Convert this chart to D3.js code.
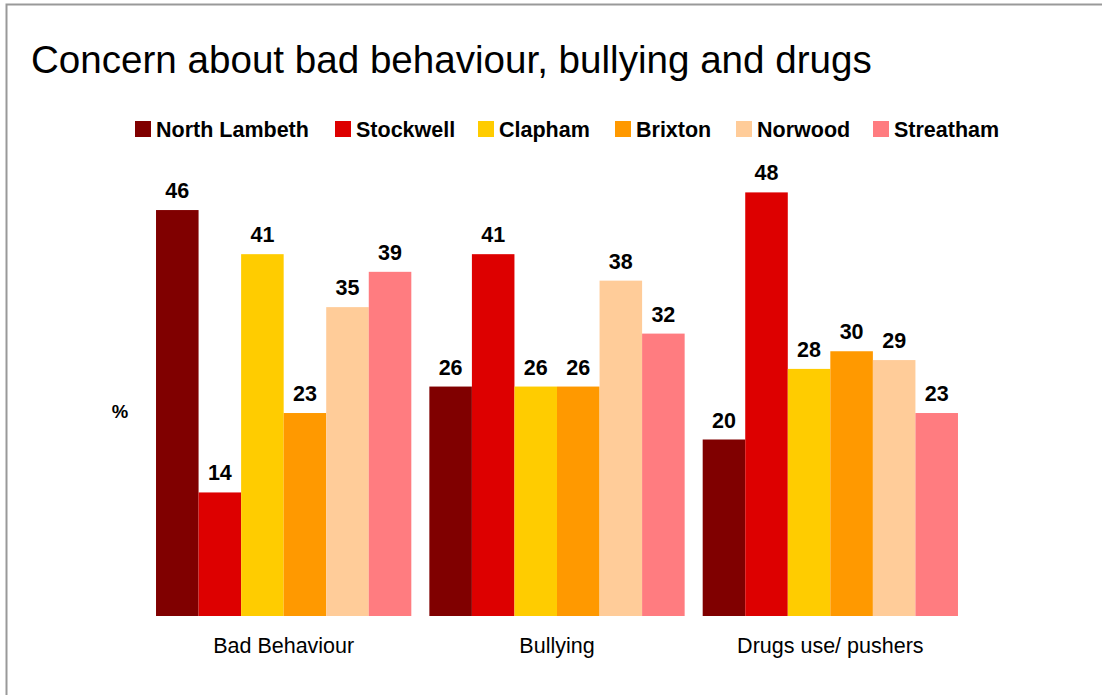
<!DOCTYPE html>
<html>
<head>
<meta charset="utf-8">
<script src="https://cdn.jsdelivr.net/npm/d3@7"></script>
<style>
  html, body { margin: 0; padding: 0; background: #fff; }
  svg { display: block; font-family: "Liberation Sans", Arial, sans-serif; }
</style>
</head>
<body>
<svg id="chart" width="1102" height="695"></svg>
<script>
// Survey areas and the three concern topics
const categories = ["Bad Behaviour", "Bullying", "Drugs use/ pushers"];
const areas = ["North Lambeth", "Stockwell", "Clapham", "Brixton", "Norwood", "Streatham"];
const colors = ["#800000", "#DD0000", "#FFCC00", "#FF9900", "#FFCC99", "#FF7C80"];

// Percentage concerned, one array per area (in category order)
const northLambeth = [46, 26, 20];
const stockwell    = [14, 41, 48];
const clapham      = [41, 26, 28];
const brixton      = [23, 26, 30];
const norwood      = [35, 38, 29];
const streatham    = [39, 32, 23];

const seriesValues = [northLambeth, stockwell, clapham, brixton, norwood, streatham];
const yDomain = [0, 50];

const svg = d3.select("#chart");

// Outer frame
svg.append("rect")
  .attr("x", 6.5).attr("y", 4.5)
  .attr("width", 1110).attr("height", 700)
  .attr("fill", "none").attr("stroke", "#999").attr("stroke-width", 2);

// Title
svg.append("text")
  .attr("x", 31).attr("y", 73)
  .attr("font-size", 38.6)
  .attr("fill", "#000")
  .text("Concern about bad behaviour, bullying and drugs");

// Plot geometry
const plot = { left: 147, right: 967, top: 174.75, bottom: 616 };

const x0 = d3.scaleBand()
  .domain(categories)
  .range([plot.left, plot.right])
  .paddingInner(0.066)
  .paddingOuter(0.033);

const x1 = d3.scaleBand()
  .domain(areas)
  .range([0, x0.bandwidth()])
  .padding(0);

const y = d3.scaleLinear().domain(yDomain).range([plot.bottom, plot.top]);

const color = d3.scaleOrdinal().domain(areas).range(colors);

// Bars
const groups = svg.append("g").selectAll("g")
  .data(categories)
  .join("g")
  .attr("transform", d => `translate(${x0(d)},0)`);

groups.selectAll("rect")
  .data((c, ci) => areas.map((a, ai) => ({ area: a, value: seriesValues[ai][ci] })))
  .join("rect")
  .attr("x", d => x1(d.area))
  .attr("y", d => y(d.value))
  .attr("width", x1.bandwidth())
  .attr("height", d => y(0) - y(d.value))
  .attr("fill", d => color(d.area));

// Value labels above bars
groups.selectAll("text.val")
  .data((c, ci) => areas.map((a, ai) => ({ area: a, value: seriesValues[ai][ci] })))
  .join("text")
  .attr("class", "val")
  .attr("x", d => x1(d.area) + x1.bandwidth() / 2)
  .attr("y", d => y(d.value) - 12)
  .attr("text-anchor", "middle")
  .attr("font-size", 21.5)
  .attr("font-weight", "bold")
  .attr("fill", "#000")
  .text(d => d.value);

// Category axis labels
const xAxis = d3.axisBottom(x0).tickSize(0).tickPadding(22);
const xg = svg.append("g")
  .attr("transform", `translate(0,${plot.bottom})`)
  .call(xAxis);
xg.select(".domain").remove();
xg.selectAll("text")
  .attr("font-size", 21.5)
  .attr("font-family", "Liberation Sans, Arial, sans-serif")
  .attr("fill", "#000");

// Y axis unit label
svg.append("text")
  .attr("x", 120).attr("y", 418)
  .attr("text-anchor", "middle")
  .attr("font-size", 18.5)
  .attr("font-weight", "bold")
  .text("%");

// Legend
const legendItems = [
  { name: areas[0], x: 135 },
  { name: areas[1], x: 335 },
  { name: areas[2], x: 478 },
  { name: areas[3], x: 615 },
  { name: areas[4], x: 736 },
  { name: areas[5], x: 873 }
];
const legend = svg.append("g").selectAll("g")
  .data(legendItems)
  .join("g")
  .attr("transform", d => `translate(${d.x},121)`);
legend.append("rect")
  .attr("width", 16).attr("height", 16)
  .attr("fill", d => color(d.name));
legend.append("text")
  .attr("x", 21).attr("y", 15.5)
  .attr("font-size", 21.5)
  .attr("font-weight", "bold")
  .attr("fill", "#000")
  .text(d => d.name);
</script>
</body>
</html>
